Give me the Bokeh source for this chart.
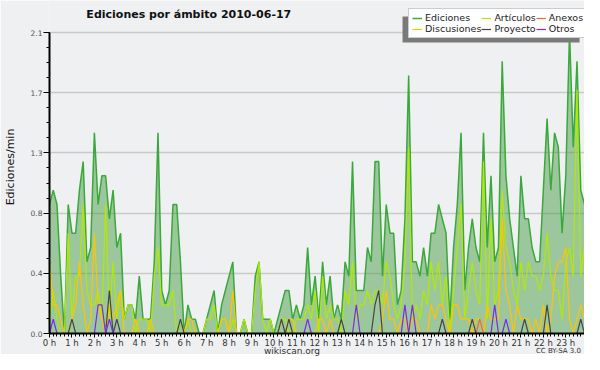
from math import pi
from bokeh.plotting import figure
from bokeh.layouts import column
from bokeh.models import (Range1d, FixedTicker, Label, Legend, LegendItem,
                          BoxAnnotation, ColumnDataSource, Div)
from bokeh.embed import file_html
from bokeh.resources import INLINE

# ---------------- data (10-minute slots, edits per minute) ----------------
hour_labels = ["0 h", "1 h", "2 h", "3 h", "4 h", "5 h", "6 h", "7 h",
               "8 h", "9 h", "10 h", "11 h", "12 h", "13 h", "14 h", "15 h",
               "16 h", "17 h", "18 h", "19 h", "20 h", "21 h", "22 h", "23 h"]

ediciones = [
    0.9, 1.0, 0.9, 0.4, 0.0, 0.9, 0.7, 0.7, 1.0, 1.2, 0.5, 0.6,
    1.4, 0.9, 1.1, 1.1, 0.8, 1.0, 0.6, 0.7, 0.1, 0.2, 0.2, 0.1,
    0.4, 0.1, 0.1, 0.1, 0.5, 1.4, 0.3, 0.2, 0.3, 0.9, 0.9, 0.5,
    0.0, 0.2, 0.1, 0.1, 0.0, 0.0, 0.1, 0.2, 0.3, 0.0, 0.2, 0.3,
    0.4, 0.5, 0.0, 0.0, 0.1, 0.0, 0.0, 0.4, 0.5, 0.1, 0.1, 0.1,
    0.0, 0.1, 0.2, 0.3, 0.3, 0.1, 0.2, 0.1, 0.2, 0.6, 0.2, 0.4,
    0.1, 0.5, 0.2, 0.4, 0.1, 0.2, 0.1, 0.5, 0.4, 1.2, 0.3, 0.3,
    0.3, 0.6, 0.5, 1.2, 1.2, 0.4, 0.9, 0.7, 0.7, 0.2, 0.3, 0.8,
    1.8, 0.5, 0.5, 0.4, 0.6, 0.4, 0.7, 0.7, 0.9, 0.8, 0.7, 0.1,
    0.6, 0.9, 1.4, 0.3, 0.6, 0.8, 0.6, 0.5, 1.4, 0.6, 1.1, 0.5,
    0.6, 1.9, 1.1, 0.8, 0.6, 0.4, 1.1, 0.8, 0.8, 0.6, 0.5, 0.5,
    1.0, 1.5, 1.0, 1.4, 1.3, 0.7, 1.1, 2.1, 1.3, 1.9, 1.0, 0.9,
]

articulos = [
    0.1, 0.3, 0.1, 0.0, 0.0, 0.7, 0.1, 0.4, 0.4, 0.9, 0.3, 0.2,
    0.2, 0.3, 0.1, 0.9, 0.1, 0.5, 0.1, 0.3, 0.1, 0.2, 0.2, 0.0,
    0.1, 0.1, 0.1, 0.0, 0.4, 0.6, 0.2, 0.2, 0.2, 0.3, 0.0, 0.1,
    0.0, 0.1, 0.0, 0.0, 0.0, 0.0, 0.1, 0.1, 0.2, 0.0, 0.1, 0.1,
    0.0, 0.1, 0.0, 0.0, 0.1, 0.0, 0.0, 0.3, 0.5, 0.1, 0.0, 0.1,
    0.0, 0.0, 0.1, 0.1, 0.0, 0.0, 0.1, 0.1, 0.1, 0.2, 0.1, 0.3,
    0.0, 0.4, 0.1, 0.2, 0.1, 0.1, 0.0, 0.3, 0.2, 0.5, 0.1, 0.2,
    0.2, 0.3, 0.2, 0.3, 0.3, 0.2, 0.5, 0.4, 0.2, 0.1, 0.2, 0.5,
    1.3, 0.1, 0.2, 0.1, 0.3, 0.2, 0.5, 0.3, 0.5, 0.2, 0.4, 0.0,
    0.3, 0.6, 0.9, 0.1, 0.3, 0.5, 0.3, 0.2, 1.2, 0.1, 0.8, 0.2,
    0.3, 1.0, 0.6, 0.5, 0.3, 0.2, 0.5, 0.3, 0.5, 0.4, 0.4, 0.3,
    0.4, 0.7, 0.4, 0.3, 0.3, 0.1, 0.5, 0.6, 0.4, 1.7, 0.4, 0.6,
]

discusiones = [
    0.5, 0.2, 0.2, 0.1, 0.0, 0.0, 0.1, 0.2, 0.5, 0.2, 0.0, 0.1,
    0.7, 0.2, 0.1, 0.0, 0.2, 0.1, 0.2, 0.3, 0.0, 0.0, 0.0, 0.1,
    0.0, 0.0, 0.0, 0.1, 0.0, 0.0, 0.0, 0.0, 0.0, 0.0, 0.0, 0.0,
    0.0, 0.1, 0.1, 0.0, 0.0, 0.0, 0.0, 0.0, 0.0, 0.0, 0.1, 0.1,
    0.0, 0.3, 0.0, 0.0, 0.0, 0.0, 0.0, 0.0, 0.0, 0.0, 0.0, 0.0,
    0.0, 0.0, 0.0, 0.0, 0.1, 0.1, 0.0, 0.0, 0.0, 0.0, 0.0, 0.0,
    0.1, 0.1, 0.0, 0.1, 0.0, 0.0, 0.0, 0.0, 0.0, 0.0, 0.0, 0.0,
    0.0, 0.0, 0.0, 0.0, 0.0, 0.1, 0.3, 0.1, 0.1, 0.0, 0.1, 0.1,
    0.0, 0.1, 0.1, 0.0, 0.0, 0.0, 0.2, 0.1, 0.2, 0.2, 0.1, 0.0,
    0.2, 0.2, 0.1, 0.1, 0.1, 0.0, 0.1, 0.1, 0.0, 0.2, 0.1, 0.1,
    0.1, 0.8, 0.3, 0.2, 0.0, 0.2, 0.1, 0.1, 0.1, 0.0, 0.1, 0.0,
    0.2, 0.0, 0.1, 0.4, 0.5, 0.5, 0.6, 0.1, 0.0, 0.1, 0.2, 0.1,
]

anexos = [
    0.0, 0.0, 0.0, 0.0, 0.0, 0.0, 0.0, 0.0, 0.0, 0.0, 0.0, 0.0,
    0.0, 0.0, 0.0, 0.0, 0.0, 0.0, 0.0, 0.0, 0.0, 0.0, 0.0, 0.0,
    0.0, 0.0, 0.0, 0.0, 0.0, 0.0, 0.0, 0.0, 0.0, 0.0, 0.0, 0.0,
    0.0, 0.0, 0.0, 0.0, 0.0, 0.0, 0.0, 0.0, 0.0, 0.0, 0.0, 0.0,
    0.0, 0.0, 0.0, 0.0, 0.0, 0.0, 0.0, 0.0, 0.0, 0.0, 0.0, 0.0,
    0.0, 0.0, 0.0, 0.0, 0.0, 0.0, 0.0, 0.0, 0.0, 0.0, 0.0, 0.0,
    0.0, 0.0, 0.0, 0.0, 0.0, 0.0, 0.0, 0.0, 0.0, 0.0, 0.0, 0.0,
    0.0, 0.0, 0.0, 0.0, 0.0, 0.0, 0.0, 0.0, 0.0, 0.0, 0.0, 0.0,
    0.0, 0.0, 0.0, 0.0, 0.0, 0.0, 0.0, 0.0, 0.0, 0.0, 0.0, 0.0,
    0.0, 0.0, 0.0, 0.0, 0.0, 0.0, 0.0, 0.1, 0.0, 0.0, 0.0, 0.0,
    0.0, 0.0, 0.0, 0.0, 0.0, 0.0, 0.0, 0.0, 0.0, 0.0, 0.0, 0.0,
    0.0, 0.0, 0.0, 0.0, 0.0, 0.0, 0.0, 0.0, 0.0, 0.0, 0.0, 0.0,
]

proyecto = [
    0.0, 0.0, 0.0, 0.0, 0.0, 0.0, 0.1, 0.0, 0.0, 0.0, 0.0, 0.0,
    0.0, 0.0, 0.0, 0.0, 0.3, 0.0, 0.1, 0.0, 0.0, 0.0, 0.0, 0.0,
    0.0, 0.0, 0.0, 0.0, 0.0, 0.0, 0.0, 0.0, 0.0, 0.0, 0.0, 0.1,
    0.0, 0.0, 0.0, 0.0, 0.0, 0.0, 0.0, 0.0, 0.0, 0.0, 0.0, 0.0,
    0.0, 0.0, 0.0, 0.0, 0.0, 0.0, 0.0, 0.0, 0.0, 0.0, 0.0, 0.0,
    0.0, 0.0, 0.1, 0.0, 0.1, 0.0, 0.0, 0.0, 0.0, 0.0, 0.0, 0.0,
    0.0, 0.0, 0.0, 0.0, 0.0, 0.0, 0.1, 0.0, 0.0, 0.0, 0.0, 0.0,
    0.0, 0.0, 0.0, 0.2, 0.3, 0.0, 0.0, 0.0, 0.0, 0.0, 0.0, 0.0,
    0.0, 0.0, 0.0, 0.0, 0.0, 0.0, 0.0, 0.0, 0.0, 0.1, 0.0, 0.0,
    0.0, 0.0, 0.0, 0.0, 0.0, 0.1, 0.0, 0.0, 0.0, 0.0, 0.0, 0.0,
    0.0, 0.0, 0.0, 0.0, 0.0, 0.0, 0.0, 0.1, 0.0, 0.0, 0.0, 0.0,
    0.0, 0.2, 0.0, 0.0, 0.0, 0.0, 0.0, 0.0, 0.0, 0.0, 0.1, 0.0,
]

otros = [
    0.0, 0.1, 0.0, 0.0, 0.0, 0.0, 0.0, 0.0, 0.0, 0.0, 0.0, 0.0,
    0.0, 0.2, 0.2, 0.0, 0.1, 0.0, 0.0, 0.0, 0.0, 0.0, 0.0, 0.0,
    0.0, 0.0, 0.0, 0.0, 0.0, 0.0, 0.0, 0.0, 0.0, 0.0, 0.0, 0.0,
    0.0, 0.0, 0.0, 0.0, 0.0, 0.0, 0.0, 0.0, 0.0, 0.0, 0.0, 0.0,
    0.0, 0.0, 0.0, 0.0, 0.0, 0.0, 0.0, 0.0, 0.0, 0.0, 0.0, 0.0,
    0.0, 0.0, 0.0, 0.0, 0.0, 0.0, 0.0, 0.0, 0.0, 0.1, 0.0, 0.0,
    0.0, 0.0, 0.0, 0.0, 0.0, 0.0, 0.0, 0.0, 0.0, 0.0, 0.2, 0.0,
    0.0, 0.0, 0.0, 0.0, 0.0, 0.0, 0.0, 0.0, 0.0, 0.0, 0.0, 0.2,
    0.0, 0.2, 0.0, 0.0, 0.0, 0.0, 0.0, 0.0, 0.0, 0.0, 0.0, 0.0,
    0.0, 0.0, 0.0, 0.0, 0.0, 0.0, 0.0, 0.0, 0.0, 0.0, 0.0, 0.2,
    0.0, 0.0, 0.1, 0.0, 0.0, 0.0, 0.0, 0.0, 0.0, 0.0, 0.0, 0.0,
    0.0, 0.0, 0.0, 0.0, 0.0, 0.0, 0.0, 0.0, 0.0, 0.0, 0.0, 0.0,
]

y_ticks = [0.0, 0.42, 0.84, 1.26, 1.68, 2.1]
y_tick_labels = ["0.0", "0.4", "0.8", "1.3", "1.7", "2.1"]

slots = list(range(len(ediciones)))
hour_ticks = [6 * h for h in range(len(hour_labels))]
y_minor = [round(0.105 * k, 3) for k in range(21)]

src = ColumnDataSource(dict(slot=slots, ed=ediciones, art=articulos,
                            dis=discusiones, anx=anexos, pro=proyecto,
                            otr=otros))

FONT = "DejaVu Sans"
BG = "#eff0f1"

# the frame starts at the very top of the canvas so that the title and the
# legend (which overhangs the 2.1 line) are drawn inside it
Y_TOP = 2.3233

p = figure(width=584, height=354, output_backend="svg", toolbar_location=None,
           title=None,
           x_range=Range1d(0, slots[-1]), y_range=Range1d(0, Y_TOP),
           min_border_left=46, min_border_right=0, min_border_top=0,
           min_border_bottom=21)
p.background_fill_color = BG
p.border_fill_color = BG
p.outline_line_color = None
p.xgrid.grid_line_color = None
p.ygrid.grid_line_color = "#c9c9c9"
p.ygrid.grid_line_width = 1.3

# area + lines
p.varea(x="slot", y1=0, y2="ed", source=src, fill_color="#409a40", fill_alpha=0.48)
r_ed = p.line("slot", "ed", source=src, line_color="#3aa83a", line_width=1.5)
r_art = p.line("slot", "art", source=src, line_color="#b0ea00", line_width=1.2)
r_dis = p.line("slot", "dis", source=src, line_color="#ffc400", line_width=1.2)
r_anx = p.line("slot", "anx", source=src, line_color="#f26a2a", line_width=1.2)
r_pro = p.line("slot", "pro", source=src, line_color="#444444", line_width=1.2)
r_otr = p.line("slot", "otr", source=src, line_color="#7b2ae6", line_width=1.2)

# x axis
xa = p.xaxis[0]
xa.ticker = FixedTicker(ticks=hour_ticks, minor_ticks=slots)
xa.major_label_overrides = {t: l for t, l in zip(hour_ticks, hour_labels)}
xa.major_tick_out = 4
xa.major_tick_in = 0
xa.minor_tick_out = 3
xa.minor_tick_in = 0
xa.major_tick_line_color = "black"
xa.minor_tick_line_color = "black"
xa.axis_line_color = "black"
xa.axis_line_width = 2
xa.major_label_text_font = FONT
xa.major_label_text_font_size = "8.5px"
xa.major_label_text_color = "#333333"
xa.major_label_standoff = 0

# y axis
ya = p.yaxis[0]
ya.bounds = (0, 2.1)
ya.ticker = FixedTicker(ticks=y_ticks, minor_ticks=y_minor)
ya.major_label_overrides = {t: l for t, l in zip(y_ticks, y_tick_labels)}
ya.major_tick_out = 6
ya.major_tick_in = 0
ya.minor_tick_out = 3
ya.minor_tick_in = 0
ya.major_tick_line_color = "black"
ya.minor_tick_line_color = "black"
ya.axis_line_color = "black"
ya.axis_line_width = 2
ya.major_label_text_font = FONT
ya.major_label_text_font_size = "7.5px"
ya.major_label_text_color = "#555555"
ya.major_label_standoff = 1
ya.axis_label = "Ediciones/min"
ya.axis_label_text_font = FONT
ya.axis_label_text_font_style = "normal"
ya.axis_label_text_font_size = "11px"
ya.axis_label_text_color = "#111111"
ya.axis_label_standoff = 11

# title inside the (extended) frame
p.add_layout(Label(x=37.75, y=2.2256, text="Ediciones por ámbito  2010-06-17",
                   text_font=FONT, text_font_style="bold", text_font_size="11px",
                   text_align="center", text_baseline="middle", text_color="#111111"))

# legend shadow
p.add_layout(BoxAnnotation(left=94.36, right=141.68, bottom=2.0302, top=2.2116,
                           fill_color="#7a7a7a", fill_alpha=1.0, line_color=None))

legend = Legend(items=[
    LegendItem(label="Ediciones", renderers=[r_ed]),
    LegendItem(label="Artículos", renderers=[r_art]),
    LegendItem(label="Anexos", renderers=[r_anx]),
    LegendItem(label="Discusiones", renderers=[r_dis]),
    LegendItem(label="Proyecto", renderers=[r_pro]),
    LegendItem(label="Otros", renderers=[r_otr]),
], location=(359, 295), orientation="horizontal", ncols=3)
legend.label_text_font = FONT
legend.label_text_font_size = "9.5px"
legend.label_height = 10
legend.glyph_height = 10
legend.glyph_width = 10
legend.label_standoff = 3
legend.spacing = 0
legend.padding = 3
legend.margin = 0
legend.border_line_color = "#999999"
legend.border_line_width = 1
legend.background_fill_color = "white"
legend.background_fill_alpha = 1.0
legend.label_text_color = "#222222"
p.add_layout(legend)

footer = Div(
    text=(
        '<div style="position:relative;width:584px;height:10px;'
        'font-family:\'DejaVu Sans\';color:#333;">'
        '<span style="position:absolute;left:0;top:0;width:584px;'
        'text-align:center;font-size:9px;line-height:10px;">wikiscan.org</span>'
        '<span style="position:absolute;right:3px;top:1px;font-size:7px;'
        'line-height:9px;">CC BY-SA 3.0</span></div>'
    ),
    width=584, height=10, margin=(-10, 0, 0, 0))

layout = column(p, footer, spacing=0)

open("out.html", "w").write(file_html(layout, INLINE, "Ediciones por ámbito"))
